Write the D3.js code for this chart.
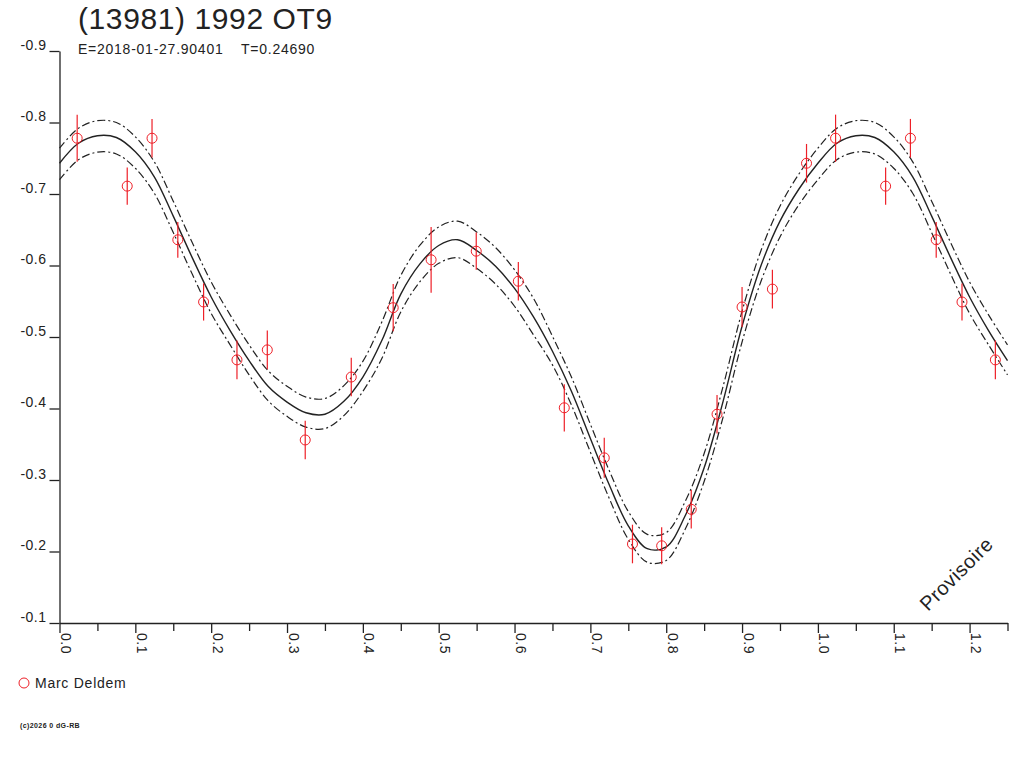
<!DOCTYPE html>
<html>
<head>
<meta charset="utf-8">
<title>(13981) 1992 OT9</title>
<script src="https://d3js.org/d3.v7.min.js"></script>
<style>
  body { margin: 0; background: #fff; }
  svg { display: block; font-family: "Liberation Sans", Arial, sans-serif; }
</style>
</head>
<body>
<script>
  // observations: phase, reduced magnitude, error
  var obsPhase = [0.0233, 0.0893, 0.1220, 0.1560, 0.1900, 0.2340, 0.2740, 0.3240, 0.3847, 0.4400, 0.4900,
                  0.5495, 0.6050, 0.6656, 0.7183, 0.7555, 0.7940, 0.8330, 0.8670, 0.9000, 0.9400, 0.9850];
  var obsMag   = [-0.778, -0.711, -0.778, -0.636, -0.549, -0.468, -0.482, -0.356, -0.444, -0.541, -0.608,
                  -0.620, -0.578, -0.401, -0.331, -0.2105, -0.208, -0.259, -0.392, -0.542, -0.567, -0.743];
  var obsErr   = [0.033, 0.026, 0.027, 0.025, 0.026, 0.027, 0.027, 0.027, 0.027, 0.033, 0.046,
                  0.026, 0.027, 0.033, 0.028, 0.027, 0.026, 0.027, 0.027, 0.028, 0.027, 0.027];

  // fitted curve and its band, read at phase 0, 0.025 ... 1.0
  var fitPhase = d3.range(41).map(function(i){ return i / 40; });
  var fitMag = [-0.743, -0.771, -0.7815, -0.779, -0.759, -0.724, -0.669, -0.611, -0.556, -0.509, -0.467,
                -0.431, -0.409, -0.394, -0.392, -0.410, -0.444, -0.495, -0.560, -0.602, -0.628,
                -0.636, -0.621, -0.599, -0.568, -0.528, -0.480, -0.424, -0.358, -0.293, -0.236,
                -0.204, -0.2065, -0.250, -0.317, -0.410, -0.515, -0.600, -0.662, -0.707, -0.743];
  var fitUpper = [-0.764, -0.792, -0.8025, -0.800, -0.780, -0.745, -0.690, -0.632, -0.577, -0.531, -0.489,
                  -0.453, -0.431, -0.416, -0.414, -0.432, -0.466, -0.521, -0.586, -0.628, -0.654,
                  -0.662, -0.647, -0.625, -0.594, -0.554, -0.501, -0.444, -0.378, -0.313, -0.256,
                  -0.224, -0.2265, -0.270, -0.337, -0.431, -0.536, -0.621, -0.683, -0.728, -0.764];
  var fitLower = [-0.720, -0.748, -0.7585, -0.756, -0.736, -0.701, -0.646, -0.588, -0.533, -0.489, -0.447,
                  -0.411, -0.389, -0.374, -0.372, -0.390, -0.424, -0.470, -0.535, -0.577, -0.603,
                  -0.611, -0.596, -0.574, -0.543, -0.503, -0.461, -0.405, -0.339, -0.274, -0.217,
                  -0.185, -0.1875, -0.231, -0.298, -0.388, -0.493, -0.578, -0.640, -0.685, -0.720];

  var yTicks = [-0.9, -0.8, -0.7, -0.6, -0.5, -0.4, -0.3, -0.2, -0.1];
  var xTicks = [0.0, 0.1, 0.2, 0.3, 0.4, 0.5, 0.6, 0.7, 0.8, 0.9, 1.0, 1.1, 1.2];
  var xMinor = [0.05, 0.15, 0.25, 0.35, 0.45, 0.55, 0.65, 0.75, 0.85, 0.95, 1.05, 1.15, 1.25];

  var width = 1024, height = 768;
  var maxPhase = 1.25;
  var ink = "#222";
  var red = "#ee2028";

  var x = d3.scaleLinear().domain([0, maxPhase]).range([59.5, 1007.5]);
  var y = d3.scaleLinear().domain([-0.9, -0.1]).range([51, 623]);

  var svg = d3.select("body").append("svg")
              .attr("width", width)
              .attr("height", height);

  // title
  svg.append("text")
     .attr("x", 78).attr("y", 29)
     .attr("font-size", 30).attr("letter-spacing", 0.6).attr("fill", ink)
     .text("(13981) 1992 OT9");
  svg.append("text")
     .attr("x", 78).attr("y", 54)
     .attr("font-size", 14).attr("letter-spacing", 0.75).attr("fill", ink)
     .text("E=2018-01-27.90401");
  svg.append("text")
     .attr("x", 241).attr("y", 54)
     .attr("font-size", 14).attr("letter-spacing", 0.75).attr("fill", ink)
     .text("T=0.24690");

  // axes
  var yAxis = d3.axisLeft(y)
                .tickValues(yTicks)
                .tickSize(10).tickSizeOuter(0)
                .tickFormat(function(d){ return d.toFixed(1); });
  var gy = svg.append("g")
              .attr("transform", "translate(59.5,0)")
              .call(yAxis);
  gy.selectAll("text")
    .attr("x", -13).attr("dy", "-2")
    .attr("font-size", 14).attr("letter-spacing", 0.5).attr("fill", ink)
    .style("font-family", "Liberation Sans, Arial, sans-serif");

  var xAxis = d3.axisBottom(x)
                .tickValues(xTicks)
                .tickSize(10).tickSizeOuter(0)
                .tickFormat(function(d){ return d.toFixed(1); });
  var gx = svg.append("g")
              .attr("transform", "translate(0,623)")
              .call(xAxis);
  gx.selectAll("text")
    .attr("x", 0).attr("y", 0).attr("dy", 0)
    .attr("transform", "translate(1,10) rotate(90)")
    .style("text-anchor", "start")
    .attr("font-size", 14).attr("letter-spacing", 0.5).attr("fill", ink)
    .style("font-family", "Liberation Sans, Arial, sans-serif");

  var gxm = svg.append("g")
               .attr("transform", "translate(0,623)")
               .call(d3.axisBottom(x).tickValues(xMinor).tickSize(8).tickSizeOuter(0).tickFormat(""));
  gxm.select(".domain").remove();

  svg.selectAll(".domain, .tick line").attr("stroke", ink).attr("stroke-width", 1.3);

  // fitted curve, repeated beyond phase 1
  function extend(values) {
    var pts = fitPhase.map(function(p, i){ return [p, values[i]]; });
    fitPhase.forEach(function(p, i){
      if (p > 0 && p + 1 <= maxPhase + 1e-9) pts.push([p + 1, values[i]]);
    });
    return pts;
  }

  var line = d3.line()
               .x(function(d){ return x(d[0]); })
               .y(function(d){ return y(d[1]); })
               .curve(d3.curveCatmullRom);

  var plot = svg.append("g");

  [fitUpper, fitLower].forEach(function(vals){
    plot.append("path")
        .attr("d", line(extend(vals)))
        .attr("fill", "none")
        .attr("stroke", ink)
        .attr("stroke-width", 1.2)
        .attr("stroke-dasharray", "8,3,2,3");
  });

  plot.append("path")
      .attr("d", line(extend(fitMag)))
      .attr("fill", "none")
      .attr("stroke", ink)
      .attr("stroke-width", 1.4);

  // observations, repeated beyond phase 1
  var obs = obsPhase.map(function(p, i){ return { p: p, m: obsMag[i], e: obsErr[i] }; });
  obsPhase.forEach(function(p, i){
    if (p + 1 <= maxPhase) obs.push({ p: p + 1, m: obsMag[i], e: obsErr[i] });
  });

  plot.selectAll("line.err")
      .data(obs).enter()
      .append("line")
      .attr("class", "err")
      .attr("x1", function(d){ return x(d.p); })
      .attr("x2", function(d){ return x(d.p); })
      .attr("y1", function(d){ return y(d.m - d.e); })
      .attr("y2", function(d){ return y(d.m + d.e); })
      .attr("stroke", red).attr("stroke-width", 1.2);

  plot.selectAll("circle.obs")
      .data(obs).enter()
      .append("circle")
      .attr("class", "obs")
      .attr("cx", function(d){ return x(d.p); })
      .attr("cy", function(d){ return y(d.m); })
      .attr("r", 5)
      .attr("fill", "none")
      .attr("stroke", red).attr("stroke-width", 1);

  // watermark
  svg.append("text")
     .attr("transform", "translate(928,612) rotate(-45)")
     .attr("font-size", 20).attr("letter-spacing", 0.5).attr("fill", ink)
     .text("Provisoire");

  // legend
  svg.append("circle")
     .attr("cx", 24).attr("cy", 683).attr("r", 5)
     .attr("fill", "none").attr("stroke", red).attr("stroke-width", 1);
  svg.append("text")
     .attr("x", 35).attr("y", 688)
     .attr("font-size", 14).attr("letter-spacing", 0.75).attr("fill", ink)
     .text("Marc Deldem");

  svg.append("text")
     .attr("x", 20).attr("y", 728)
     .attr("font-size", 7).attr("letter-spacing", 0.4).attr("font-weight", "bold").attr("fill", ink)
     .text("(c)2026 0 dG-RB");
</script>
</body>
</html>
